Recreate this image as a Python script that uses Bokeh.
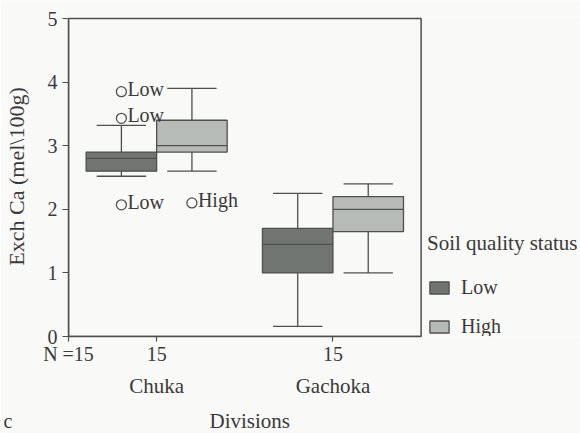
from bokeh.plotting import figure
from bokeh.models import (Range1d, FixedTicker, Legend, LegendItem, LinearAxis,
                          ColumnDataSource, Title, BoxAnnotation)
from bokeh.core.properties import value
from bokeh.embed import file_html
from bokeh.resources import INLINE

# ---------------- data ----------------
divisions = ["Chuka", "Gachoka"]
statuses = ["Low", "High"]

# per box: Chuka-Low, Chuka-High, Gachoka-Low, Gachoka-High
box_division = ["Chuka", "Chuka", "Gachoka", "Gachoka"]
box_status = ["Low", "High", "Low", "High"]
q1 = [2.6, 2.9, 1.0, 1.65]
median = [2.8, 3.0, 1.45, 2.0]
q3 = [2.9, 3.4, 1.7, 2.2]
whisk_low = [2.52, 2.6, 0.16, 1.0]
whisk_high = [3.32, 3.9, 2.25, 2.4]

out_division = ["Chuka", "Chuka", "Chuka", "Chuka"]
out_status = ["Low", "Low", "Low", "High"]
out_value = [3.85, 3.43, 2.07, 2.1]
out_label = ["Low", "Low", "Low", "High"]

n_labels = ["N =15", "15", "15"]
n_ticks = [0.5, 1, 2]

y_ticks = [0, 1, 2, 3, 4, 5]
x_title = "Divisions"
y_title = "Exch Ca (mel\\100g)"
legend_title = "Soil quality status"
panel_letter = "c"

# ---------------- styling ----------------
FONT = "Liberation Serif"
TXT = "#3a3a3a"
LINE = "#4f4f4f"
BG = "#f9f9f7"
fills = {"Low": "#707571", "High": "#b7bbb8"}
offsets = {"Low": -0.2, "High": 0.2}
BOX_W = 0.4
CAP_W = 0.28
X_LO, X_HI = 0.5, 2.5          # plotted x domain (boxed area)
Y_LO, Y_HI = 0, 5              # plotted y domain
PX_X = 177.0                   # pixels per x unit
PX_Y = 63.6                    # pixels per y unit


def xpos(div, st):
    return divisions.index(div) + 1 + offsets[st]


# the frame runs to the right edge so that the legend there is not clipped
p = figure(width=580, height=433, output_backend="svg", toolbar_location=None,
           x_range=Range1d(X_LO, X_LO + 514 / PX_X),
           y_range=Range1d(Y_LO, Y_HI + 2 / PX_Y), x_axis_type=None,
           min_border_left=66, min_border_right=0, min_border_top=16,
           min_border_bottom=97)
p.background_fill_color = BG
p.border_fill_color = BG
p.outline_line_color = None
p.grid.visible = False

# box around the plotted domain
p.add_layout(BoxAnnotation(left=X_LO, right=X_HI, bottom=Y_LO, top=Y_HI,
                           fill_color=None, fill_alpha=0,
                           line_color=LINE, line_alpha=1, line_width=1.5))


def style_axis(ax, size="20px"):
    ax.axis_line_color = LINE
    ax.axis_line_width = 1.5
    ax.major_tick_line_color = LINE
    ax.major_tick_line_width = 1.2
    ax.major_tick_in = 0
    ax.minor_tick_line_color = None
    ax.minor_tick_out = 0
    ax.major_label_text_font = FONT
    ax.major_label_text_font_size = size
    ax.major_label_text_color = TXT
    ax.axis_label_text_font = FONT
    ax.axis_label_text_font_size = size
    ax.axis_label_text_font_style = "normal"
    ax.axis_label_text_color = TXT


# y axis
yax = p.yaxis[0]
style_axis(yax)
yax.ticker = FixedTicker(ticks=y_ticks)
yax.bounds = (Y_LO, Y_HI)
yax.major_tick_out = 6
yax.major_label_standoff = 5
yax.axis_label = y_title
yax.axis_label_text_font_size = "22px"
yax.axis_label_standoff = 16

# x axis 1: case counts under the ticks
nax = LinearAxis(ticker=FixedTicker(ticks=n_ticks), bounds=(X_LO, X_HI),
                 major_label_overrides={t: s for t, s in zip(n_ticks, n_labels)})
style_axis(nax)
nax.major_tick_out = 5
nax.major_label_standoff = 1
p.add_layout(nax, "below")

# x axis 2: division names
dax = LinearAxis(ticker=FixedTicker(ticks=[1, 2]),
                 major_label_overrides={i + 1: d for i, d in enumerate(divisions)})
style_axis(dax, "21px")
dax.axis_line_color = None
dax.major_tick_line_color = None
dax.major_tick_out = 0
dax.major_label_standoff = 6
p.add_layout(dax, "below")

# invisible gap
gap = LinearAxis(ticker=FixedTicker(ticks=[1]), major_label_overrides={1: ""},
                 axis_line_color=None, major_tick_line_color=None,
                 minor_tick_line_color=None, major_tick_in=0, major_tick_out=20,
                 minor_tick_out=0, major_label_standoff=0,
                 major_label_text_font_size="0px")
p.add_layout(gap, "below")

# axis title and panel letter share one row (zero-height titles)
p.add_layout(Title(text=x_title, align="left", offset=141, standoff=-29,
                   vertical_align="middle", text_font=FONT, text_font_size="21px",
                   text_font_style="normal", text_color=TXT), "below")
p.add_layout(Title(text=panel_letter, align="left", offset=-65, standoff=-27,
                   vertical_align="middle", text_font=FONT, text_font_size="20px",
                   text_font_style="normal", text_color=TXT), "below")

# boxes
renderers = {}
for st in statuses:
    idx = [i for i, s in enumerate(box_status) if s == st]
    xs = [xpos(box_division[i], st) for i in idx]
    src = ColumnDataSource(dict(
        x=xs,
        q1=[q1[i] for i in idx], q3=[q3[i] for i in idx],
        lo=[whisk_low[i] for i in idx], hi=[whisk_high[i] for i in idx],
    ))
    p.segment(x0="x", y0="q3", x1="x", y1="hi", source=src, line_color=LINE, line_width=1.3)
    p.segment(x0="x", y0="q1", x1="x", y1="lo", source=src, line_color=LINE, line_width=1.3)
    caps = ColumnDataSource(dict(
        x0=[x - CAP_W / 2 for x in xs] * 2,
        x1=[x + CAP_W / 2 for x in xs] * 2,
        y=src.data["lo"] + src.data["hi"],
    ))
    p.segment(x0="x0", y0="y", x1="x1", y1="y", source=caps, line_color=LINE, line_width=1.3)
    renderers[st] = p.vbar(x="x", width=BOX_W, top="q3", bottom="q1", source=src,
                           fill_color=fills[st], line_color=LINE, line_width=1.3)
    med_src = ColumnDataSource(dict(
        x0=[x - BOX_W / 2 for x in xs],
        x1=[x + BOX_W / 2 for x in xs],
        y=[median[i] for i in idx],
    ))
    p.segment(x0="x0", y0="y", x1="x1", y1="y", source=med_src, line_color=LINE, line_width=1.3)

# outliers
osrc = ColumnDataSource(dict(
    x=[xpos(d, s) for d, s in zip(out_division, out_status)],
    y=out_value, label=out_label,
))
p.scatter(x="x", y="y", source=osrc, size=10, marker="circle",
          fill_color=None, line_color=LINE, line_width=1.3)
p.text(x="x", y="y", text="label", source=osrc, x_offset=6, y_offset=-3,
       text_font=value(FONT), text_font_size="20px", text_color=TXT,
       text_baseline="alphabetic", text_align="left")

# status legend, to the right of the box
legend = Legend(items=[LegendItem(label=st, renderers=[renderers[st]]) for st in statuses],
                location=(359, -2), title=legend_title,
                title_text_font=FONT, title_text_font_size="21px",
                title_text_font_style="normal", title_text_color=TXT,
                title_standoff=20, label_text_font=FONT, label_text_color=TXT,
                label_text_font_size="20px",
                glyph_width=24, glyph_height=15, label_standoff=10, spacing=16,
                padding=0, margin=0, border_line_color=None,
                background_fill_alpha=0)
p.add_layout(legend)

open("out.html", "w").write(file_html(p, INLINE))
